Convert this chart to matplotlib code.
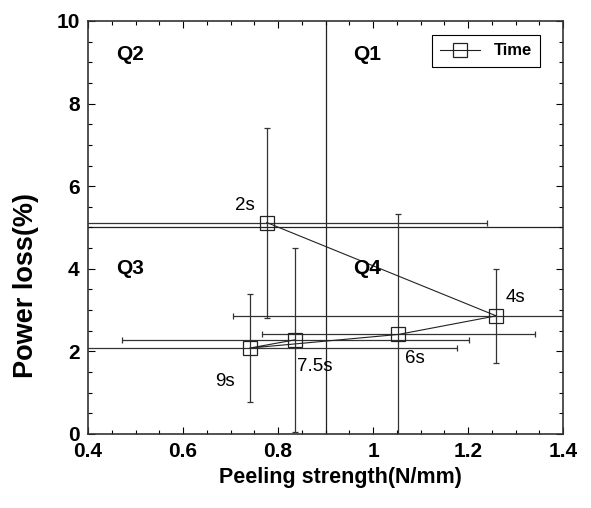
import matplotlib.pyplot as plt
from matplotlib.ticker import MultipleLocator

plt.rcParams['font.family'] = ['Liberation Sans', 'DejaVu Sans']

# data
labels = ['2s', '4s', '6s', '7.5s', '9s']
peel = [0.776, 1.259, 1.053, 0.836, 0.740]
loss = [5.12, 2.86, 2.41, 2.28, 2.08]
peel_err = [0.464, 0.555, 0.287, 0.365, 0.436]
loss_err = [2.30, 1.13, 2.92, 2.22, 1.31]
line_order = [0, 1, 2, 4, 3]  # how the connecting line runs through the points
label_offsets = [(-23, 12), (7, 13), (5, -17), (1, -19), (-25, -24)]

fig = plt.figure(figsize=(5.91, 5.08), dpi=100)
ax = fig.add_axes([0.149, 0.1457, 0.804, 0.813])

# quadrant lines
ax.axvline(0.9, color='#222222', lw=0.9, zorder=1)
ax.axhline(5.0, color='#222222', lw=0.9, zorder=1)

# error bars
ax.errorbar(peel, loss, xerr=peel_err, yerr=loss_err, fmt='none',
            ecolor='#333333', elinewidth=0.9, capsize=2.5, capthick=0.9, zorder=2)

# connecting line
ax.plot([peel[i] for i in line_order], [loss[i] for i in line_order],
        color='#222222', lw=0.8, zorder=3)
ax.plot(peel, loss, ls='none', marker='s', ms=10, mfc='none', mec='#222222',
        mew=0.9, zorder=4)

# legend proxy
ax.plot([], [], color='#222222', lw=0.8, marker='s', ms=10, mfc='none',
        mec='#222222', mew=0.9, label='Time')
leg = ax.legend(loc='upper right', bbox_to_anchor=(0.952, 0.966), fancybox=False,
                edgecolor='black', framealpha=1, handlelength=2.4,
                prop={'weight': 'bold', 'size': 12}, borderpad=0.5,
                borderaxespad=0)
leg.get_frame().set_linewidth(0.8)

for lab, x, y, off in zip(labels, peel, loss, label_offsets):
    ax.annotate(lab, (x, y), xytext=off, textcoords='offset points',
                fontsize=13.5, ha='left', va='center')

# quadrant names
for q, qx, qy in [('Q2', 0.488, 9.2), ('Q1', 0.987, 9.2),
                  ('Q3', 0.488, 4.0), ('Q4', 0.987, 4.0)]:
    ax.text(qx, qy, q, fontsize=15, fontweight='bold', ha='center', va='center')

ax.set_xlim(0.4, 1.4)
ax.set_ylim(0, 10)
ax.xaxis.set_major_locator(MultipleLocator(0.2))
ax.xaxis.set_minor_locator(MultipleLocator(0.05))
ax.yaxis.set_major_locator(MultipleLocator(2))
ax.yaxis.set_minor_locator(MultipleLocator(0.5))
ax.set_xticks([0.4, 0.6, 0.8, 1.0, 1.2, 1.4])
ax.set_xticklabels(['0.4', '0.6', '0.8', '1', '1.2', '1.4'])
ax.tick_params(which='both', direction='in', top=True, right=True,
               labelsize=15, width=0.8)
ax.tick_params(which='major', length=5, pad=6)
ax.tick_params(which='minor', length=3)
for t in ax.get_xticklabels() + ax.get_yticklabels():
    t.set_fontweight('bold')
for s in ax.spines.values():
    s.set_linewidth(1.2)
    s.set_color('#333333')

# axis titles sit off-centre in the reference
fig.text(340 / 591, 1 - 478 / 508, 'Peeling strength(N/mm)', fontsize=15.5,
         fontweight='bold', ha='center', va='center')
fig.text(26 / 591, 1 - 285 / 508, 'Power loss(%)', fontsize=19.5, fontweight='bold',
         rotation=90, ha='center', va='center')

fig.savefig('out.png', dpi=100)
